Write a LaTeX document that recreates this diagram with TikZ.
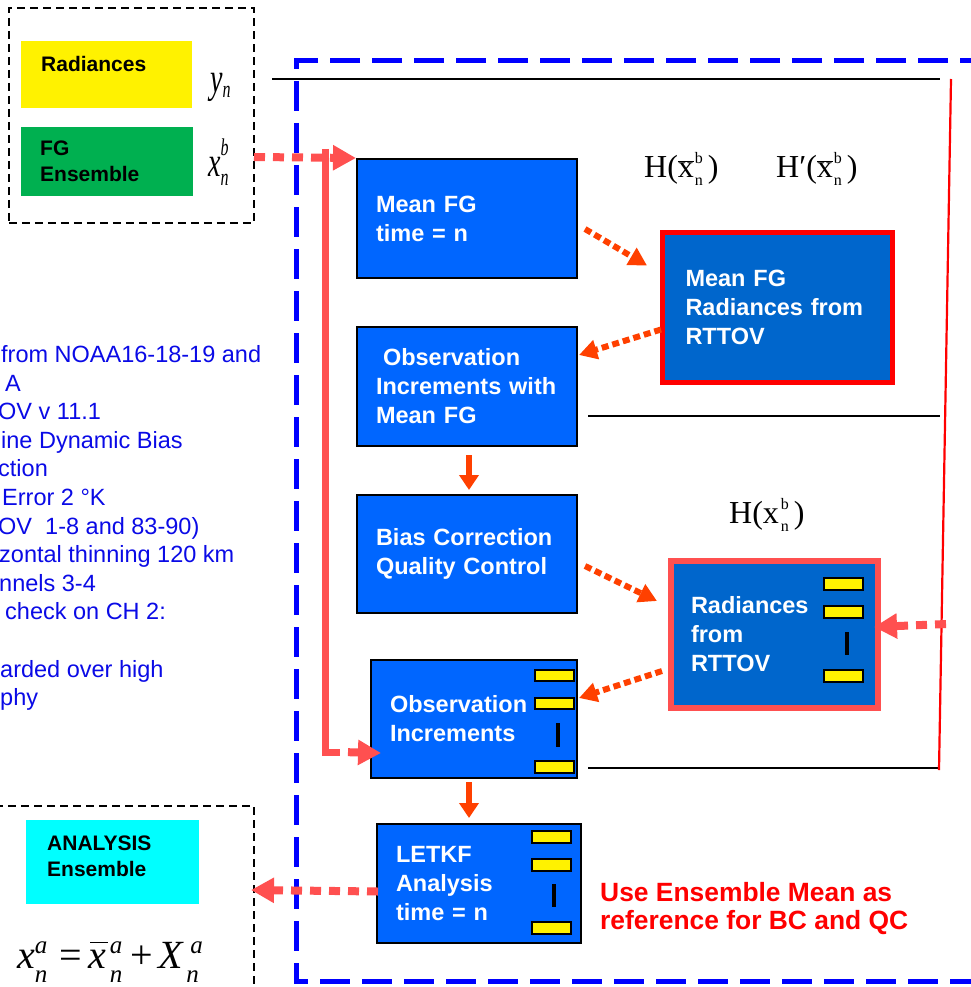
\documentclass[tikz,border=0pt]{standalone}
\usepackage{fontspec}
\usepackage{graphicx}
\setmainfont{Liberation Sans}
\newfontfamily\tms{Liberation Serif}
\usetikzlibrary{arrows.meta,calc}

\definecolor{boxblue}{HTML}{0066FF}
\definecolor{rtblue}{HTML}{0066CC}
\definecolor{salmon}{HTML}{FF5050}
\definecolor{arrowred}{HTML}{FF4000}
\definecolor{fggreen}{HTML}{00B050}
\definecolor{anacyan}{HTML}{00FFFF}
\definecolor{notetext}{HTML}{0A0AE6}
\definecolor{frameblue}{HTML}{0000FF}

% superscript #1 raised by #3, subscript #2 lowered by #4, stacked
\newcommand\supsub[4]{\rlap{\raisebox{#3}{#1}}\raisebox{-#4}{#2}}
% letter #1 with a bar of width #3 raised by #2, shifted right by #4
\newcommand\barred[4]{\rlap{\kern#4\raisebox{#2}{\rule{#3}{1.3pt}}}#1}

\tikzset{
  flowbox/.style={draw=black, line width=2pt, fill=boxblue, text=white, anchor=north west,
    align=left, inner ysep=0pt, font=\bfseries\fontsize{23.5}{29}\selectfont},
  inlabel/.style={anchor=north west, align=left, text=black, inner ysep=0pt,
    font=\bfseries\fontsize{21}{26}\selectfont},
  ybar/.style={draw=black, line width=1.5pt, fill=yellow, anchor=north west,
    minimum width=39pt, inner sep=0pt},
  tick/.style={draw=black, line width=4pt},
  dbox/.style={draw=black, line width=1.8pt, dash pattern=on 8pt off 5pt},
  frame/.style={draw=frameblue, line width=5pt, dash pattern=on 30pt off 12pt},
  guide/.style={draw=black, line width=1.5pt},
  odot/.style={draw=arrowred, line width=6pt, dash pattern=on 7pt off 4pt,
    -{Triangle[length=18pt,width=19pt]}},
  osolid/.style={draw=arrowred, line width=6pt, -{Triangle[length=15pt,width=19pt]}},
  sdot/.style={draw=salmon, line width=8pt, dash pattern=on 11pt off 8pt,
    -{Triangle[length=23pt,width=24pt]}},
  note/.style={anchor=base west, text=notetext, inner sep=0pt,
    font=\fontsize{23.5}{29}\selectfont},
  mathlbl/.style={anchor=base west, inner sep=0pt},
}

\begin{document}
\begin{tikzpicture}[x=1pt,y=-1pt]
\useasboundingbox (0,0) rectangle (970,987);

% outer frame of the assimilation cycle
\draw[frame] (990,61) -- (296,61) -- (296,981) -- (990,981);

% guide lines
\draw[guide] (272,79) -- (940,79);
\draw[guide] (588,416) -- (940,416);
\draw[guide] (588,768) -- (940,768);
\draw[red, line width=2.2pt] (951,79) -- (939,770);

% input panel
\node[dbox, anchor=north west, minimum width=245pt, minimum height=215pt, inner sep=0pt] (inbox) at (8,7) {};
\node[inlabel, fill=yellow, minimum width=171pt, minimum height=67pt, inner xsep=20pt, text width=131pt]
  (rad) at (21,41) {\raisebox{0pt}[15pt][22pt]{Radiances}};
\node[inlabel, fill=fggreen, minimum width=172pt, minimum height=69pt, inner xsep=19pt, text width=134pt]
  (fg) at (21,127) {FG\\Ensemble};
\node[mathlbl] (yn) at (210,93)
  {\scalebox{1}[1.5]{\tms\itshape\fontsize{28}{28}\selectfont y\fontsize{16}{16}\selectfont\raisebox{-2.7pt}{n}}};
\node[mathlbl] (xb) at (208,177)
  {\scalebox{1}[1.5]{\tms\itshape\fontsize{28}{28}\selectfont x\fontsize{16}{16}\selectfont\supsub{b}{n}{14.5pt}{5.5pt}}};

% output panel
\draw[dbox] (-5,806) -- (254,806) -- (254,995);
\node[inlabel, fill=anacyan, minimum width=173pt, minimum height=84pt, inner xsep=21pt, text width=131pt]
  (ana) at (26,820) {ANALYSIS\\\raisebox{0pt}[\height][\dimexpr\depth+12pt\relax]{Ensemble}};
\node[mathlbl] (eqa) at (17,968)
  {\tms\itshape\fontsize{40}{40}\selectfont x\fontsize{25}{25}\selectfont\supsub{a}{n}{15pt}{14pt}%
   \fontsize{40}{40}\selectfont\kern12pt{\upshape=}\kern6pt\barred{x}{25pt}{18pt}{2pt}%
   \fontsize{25}{25}\selectfont\kern4pt\supsub{a}{n}{15pt}{14pt}%
   \fontsize{40}{40}\selectfont\kern8pt{\upshape+}\kern6pt X%
   \fontsize{25}{25}\selectfont\kern3pt\supsub{\kern4pt a}{n}{15pt}{14pt}};

% notes on the left
\foreach \yy/\xx/\tt [count=\i] in {
  362.5/1/{from NOAA16-18-19 and},
  391.1/5/{A},
  419.7/-2/{OV v 11.1},
  448.3/1/{ine Dynamic Bias},
  476.9/-2/{ction},
  505.5/2/{Error 2 °K},
  534.1/-2/{OV~ 1-8 and 83-90)},
  562.7/-1/{zontal thinning 120 km},
  591.3/-1/{nnels 3-4},
  619.9/5/{check on CH 2:},
  677.1/0/{arded over high},
  705.7/0/{phy}}
  \node[note] (note\i) at (\xx,\yy) {\tt};

% processing chain
\node[flowbox, minimum width=220pt, minimum height=119pt, inner xsep=19pt, text width=182pt]
  (mfg) at (356,158) {Mean FG\\time = n};
\node[flowbox, minimum width=220pt, minimum height=119pt, inner xsep=19pt, text width=182pt]
  (ofg) at (356,326) {\hspace*{7pt}Observation\\Increments with\\Mean FG};
\node[flowbox, minimum width=220pt, minimum height=118pt, inner xsep=19pt, text width=182pt]
  (bc) at (356,494) {Bias Correction\\Quality Control};
\node[flowbox, minimum width=206pt, minimum height=118pt, inner xsep=19pt, text width=168pt]
  (oi) at (370,659) {Observation\\Increments};
\node[flowbox, minimum width=204pt, minimum height=119pt, inner xsep=19pt, text width=166pt]
  (letkf) at (376,823) {LETKF\\Analysis\\time = n};
\node[flowbox, draw=red, line width=5pt, fill=rtblue, minimum width=230pt, minimum height=150pt,
  inner xsep=23.5pt, text width=183pt]
  (mfgr) at (659.5,229.5) {Mean FG\\Radiances from\\RTTOV};
\node[flowbox, draw=salmon, line width=6pt, fill=rtblue, minimum width=207pt, minimum height=147pt,
  inner xsep=20pt, text width=167pt]
  (rr) at (668,558) {Radiances\\from\\RTTOV};

% ensemble member bars
\node[ybar, minimum height=12pt] (rr1) at (823,577) {};
\node[ybar, minimum height=12pt] (rr2) at (823,605) {};
\node[ybar, minimum height=12pt] (rr3) at (823,669) {};
\draw[tick] (847,632) -- (847,655);
\node[ybar, minimum height=11pt] (oi1) at (534,669) {};
\node[ybar, minimum height=11pt] (oi2) at (534,697) {};
\node[ybar, minimum height=12pt] (oi3) at (534,760) {};
\draw[tick] (558,723) -- (558,747);
\node[ybar, minimum height=12pt] (lk1) at (531,830) {};
\node[ybar, minimum height=12pt] (lk2) at (531,858) {};
\node[ybar, minimum height=12pt] (lk3) at (531,921) {};
\draw[tick] (554,884) -- (554,907);

% operator labels
\node[mathlbl] (hmean) at (644,178)
  {\tms\fontsize{32}{32}\selectfont H(\barred{x}{16pt}{16pt}{0pt}\fontsize{16}{16}\selectfont\kern1pt\supsub{b}{n}{14pt}{8pt}\fontsize{32}{32}\selectfont\kern5pt)};
\node[mathlbl] (hprime) at (776,178)
  {\tms\fontsize{32}{32}\selectfont H′(\barred{x}{16pt}{16pt}{0pt}\fontsize{16}{16}\selectfont\kern1pt\supsub{b}{n}{14pt}{8pt}\fontsize{32}{32}\selectfont\kern5pt)};
\node[mathlbl] (hens) at (729,523)
  {\tms\fontsize{32}{32}\selectfont H(x\fontsize{16}{16}\selectfont\kern2pt\supsub{b}{n}{14pt}{8pt}\fontsize{32}{32}\selectfont\kern5pt)};

\node[anchor=north west, align=left, text=red, inner sep=0pt,
  font=\bfseries\fontsize{26.4}{28}\selectfont]
  (refnote) at (600,882) {Use Ensemble Mean as\\reference for BC and QC};

% connectors
\coordinate (fgout) at (254,157);
\draw[sdot] (fgout) -- (mfg.north west);
\coordinate (vtop) at (325,149);
\coordinate (vbend) at (325,752);
\draw[salmon, line width=7pt] (vtop) -- (vbend) -- ++(15,0) coordinate (vend);
\draw[sdot, dash phase=11pt] (vend) -- ($(oi.south west)+(11,-26)$);

\draw[odot] ($(mfg.east)+(7,10.5)$) -- ($(mfgr.west)+(-12.5,-41.5)$);
\draw[odot] ($(mfgr.west)+(1.5,22.5)$) -- ($(ofg.east)+(1,-31.5)$);
\draw[osolid] ($(ofg.south)+(2,8)$) -- ($(bc.north)+(2,-4)$);
\draw[odot] ($(bc.east)+(7,12)$) -- ($(rr.west)+(-11,-33.5)$);
\draw[odot] ($(rr.west)+(-6,36.5)$) -- ($(oi.east)+(1,-21)$);
\draw[osolid] ($(oi.south)+(-5,3)$) -- ($(letkf.north)+(-10,-5)$);

\coordinate (rin) at (946,624);
\draw[sdot] (rin) -- ($(rr.east)+(-7,-7.5)$);
\coordinate (aout) at (251,890);
\draw[sdot] ($(letkf.west)+(2,8)$) -- (aout);
\end{tikzpicture}
\end{document}
